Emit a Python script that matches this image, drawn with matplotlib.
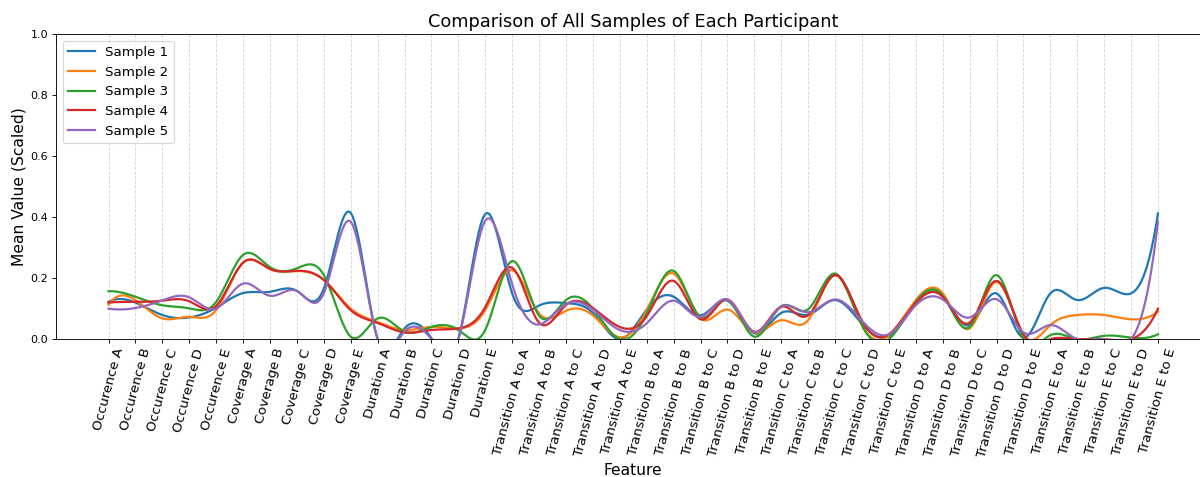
import matplotlib.pyplot as plt
import numpy as np

features = (
    [f"Occurence {s}" for s in "ABCDE"]
    + [f"Coverage {s}" for s in "ABCDE"]
    + [f"Duration {s}" for s in "ABCDE"]
    + [f"Transition {a} to {b}" for a in "ABCDE" for b in "ABCDE"]
)

sample_1 = [0.122, 0.120, 0.079, 0.071, 0.103, 0.151, 0.155, 0.158, 0.165, 0.414,
            0.000, 0.035, 0.003, 0.000, 0.410, 0.150, 0.110, 0.118, 0.086, 0.000,
            0.097, 0.139, 0.078, 0.126, 0.019, 0.086, 0.080, 0.128, 0.050, 0.010,
            0.117, 0.141, 0.046, 0.150, 0.005, 0.150, 0.128, 0.168, 0.150, 0.412]
sample_2 = [0.113, 0.128, 0.068, 0.073, 0.095, 0.250, 0.230, 0.223, 0.194, 0.100,
            0.056, 0.030, 0.040, 0.035, 0.095, 0.226, 0.084, 0.093, 0.078, 0.006,
            0.095, 0.215, 0.068, 0.097, 0.022, 0.062, 0.062, 0.210, 0.045, 0.013,
            0.128, 0.150, 0.035, 0.188, 0.013, 0.046, 0.079, 0.079, 0.065, 0.090]
sample_3 = [0.157, 0.139, 0.111, 0.101, 0.122, 0.276, 0.236, 0.232, 0.210, 0.008,
            0.068, 0.025, 0.040, 0.030, 0.030, 0.256, 0.077, 0.128, 0.100, 0.000,
            0.084, 0.224, 0.073, 0.128, 0.008, 0.108, 0.098, 0.215, 0.045, 0.000,
            0.122, 0.143, 0.040, 0.210, 0.000, 0.013, 0.000, 0.011, 0.005, 0.016]
sample_4 = [0.120, 0.122, 0.126, 0.124, 0.109, 0.251, 0.230, 0.224, 0.194, 0.095,
            0.053, 0.022, 0.030, 0.035, 0.105, 0.234, 0.054, 0.112, 0.102, 0.040,
            0.075, 0.191, 0.065, 0.130, 0.024, 0.106, 0.078, 0.210, 0.060, 0.016,
            0.119, 0.139, 0.054, 0.191, 0.016, 0.000, 0.000, 0.000, 0.000, 0.100]
sample_5 = [0.100, 0.102, 0.127, 0.137, 0.100, 0.182, 0.142, 0.158, 0.150, 0.385,
            0.000, 0.025, 0.000, 0.000, 0.388, 0.180, 0.048, 0.115, 0.097, 0.030,
            0.052, 0.126, 0.073, 0.130, 0.024, 0.106, 0.088, 0.130, 0.060, 0.016,
            0.111, 0.130, 0.071, 0.131, 0.022, 0.046, 0.000, 0.000, 0.000, 0.385]

samples = {"Sample 1": sample_1, "Sample 2": sample_2, "Sample 3": sample_3,
           "Sample 4": sample_4, "Sample 5": sample_5}


def smooth(x, y, xs):
    # not-a-knot cubic spline (same as scipy make_interp_spline k=3)
    n = len(x)
    h = np.diff(x)
    A = np.zeros((n, n))
    r = np.zeros(n)
    for i in range(1, n - 1):
        A[i, i - 1] = h[i - 1]
        A[i, i] = 2 * (h[i - 1] + h[i])
        A[i, i + 1] = h[i]
        r[i] = 6 * ((y[i + 1] - y[i]) / h[i] - (y[i] - y[i - 1]) / h[i - 1])
    A[0, 0], A[0, 1], A[0, 2] = h[1], -(h[0] + h[1]), h[0]
    A[-1, -3], A[-1, -2], A[-1, -1] = h[-1], -(h[-2] + h[-1]), h[-2]
    M = np.linalg.solve(A, r)
    idx = np.clip(np.searchsorted(x, xs) - 1, 0, n - 2)
    hi = h[idx]
    a = (x[idx + 1] - xs) / hi
    b = (xs - x[idx]) / hi
    return (a * y[idx] + b * y[idx + 1]
            + ((a ** 3 - a) * M[idx] + (b ** 3 - b) * M[idx + 1]) * hi ** 2 / 6)


x = np.arange(len(features), dtype=float)
xs = np.linspace(x[0], x[-1], 500)

fig = plt.figure(figsize=(15, 5.9625), dpi=80)
ax = fig.add_axes([0.0467, 0.289, 0.962, 0.64])

for name, vals in samples.items():
    ax.plot(xs, smooth(x, np.array(vals), xs), label=name, linewidth=2)

ax.set_ylim(0, 1)
ax.set_xticks(x)
ax.set_xticklabels(features, rotation=75, fontsize=12)
ax.grid(axis='x', linestyle='--', alpha=0.5)
ax.set_xlabel("Feature", fontsize=14)
ax.set_ylabel("Mean Value (Scaled)", fontsize=14)
ax.set_title("Comparison of All Samples of Each Participant", fontsize=16)
ax.legend(loc='upper left', fontsize=12)

fig.savefig("out.png", dpi=80)
